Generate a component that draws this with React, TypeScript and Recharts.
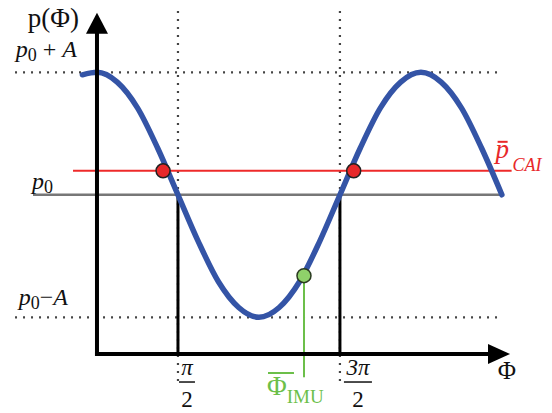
import { ComposedChart, Line, XAxis, YAxis, ReferenceLine, ReferenceDot } from "recharts";

// phi is in units of pi, p is normalised so that p0 = 0 and A = 1
const phiSamples = [-0.09, 0, 0.125, 0.25, 0.375, 0.5, 0.625, 0.75, 0.875, 1, 1.125, 1.25, 1.375, 1.5, 1.625, 1.75, 1.875, 2, 2.125, 2.25, 2.375, 2.5];
const pSamples = [0.98, 1, 0.92, 0.71, 0.38, 0, -0.38, -0.71, -0.92, -1, -0.92, -0.71, -0.38, 0, 0.38, 0.71, 0.92, 1, 0.92, 0.71, 0.38, 0];

const p0 = 0;
const amplitude = 1;
const pCai = 0.196;
const caiCrossings = [0.408, 1.585];
const phiImu = 1.278;
const pImu = -0.66;

const phiTicks = [0.5, 1.5];
const phiTickNumerators = ["π", "3π"];
const phiTickDenominator = "2";

const levelLabels = ["p0 + A", "p0", "p0−A"];

const xDomain: [number, number] = [-0.5, 2.55];
const yDomain: [number, number] = [-1.7, 1.55];
const axisFloor = -1.3;
const axisTop = 1.486;
const axisEnd = 2.55;

const curve = phiSamples.map((phi, i) => ({ phi, p: pSamples[i] }));

const SERIF = { fontFamily: "'Liberation Serif', 'DejaVu Serif', serif" };
const BLUE = "#3454a6";
const RED = "#e8282a";
const GREEN = "#6cbf4a";
const DOTS = "#444";

function VArrow(p: any) {
  return (
    <g>
      <line x1={p.x1} y1={p.y1} x2={p.x2} y2={p.y2 + 18} stroke="#000" strokeWidth={4} strokeLinecap="square" />
      <polygon points={`${p.x2},${p.y2} ${p.x2 - 11},${p.y2 + 21} ${p.x2 + 11},${p.y2 + 21}`} fill="#000" />
    </g>
  );
}

function HArrow(p: any) {
  return (
    <g>
      <line x1={p.x1} y1={p.y1} x2={p.x2 - 18} y2={p.y2} stroke="#000" strokeWidth={4} strokeLinecap="square" />
      <polygon points={`${p.x2},${p.y2} ${p.x2 - 22},${p.y2 - 10} ${p.x2 - 22},${p.y2 + 10}`} fill="#000" />
    </g>
  );
}

function LevelLabel({ cx, cy, text, dx, dy }: any) {
  const [base, rest] = [text.slice(0, 1), text.slice(2)];
  return (
    <text x={cx + dx} y={cy + dy} textAnchor="end" style={SERIF} fontSize={24} fill="#111">
      <tspan fontStyle="italic">{base}</tspan>
      <tspan fontSize={18} dy={4}>0</tspan>
      <tspan dy={-4}>{rest.replace("A", "")}</tspan>
      {rest.includes("A") && <tspan fontStyle="italic">A</tspan>}
    </text>
  );
}

function TickLabel({ cx, cy, num, dx }: any) {
  const x = cx + dx;
  return (
    <g style={SERIF} fontSize={23} fill="#111" textAnchor="middle">
      <text x={x} y={cy + 21} fontStyle="italic">{num}</text>
      <line x1={x - 8 - (num.length - 1) * 6} x2={x + 8 + (num.length - 1) * 6} y1={cy + 28} y2={cy + 28} stroke="#111" strokeWidth={1.5} />
      <text x={x} y={cy + 53}>{phiTickDenominator}</text>
    </g>
  );
}

export default function App() {
  return (
    <div style={{ position: "absolute", left: 0, top: 0, background: "#fff" }}>
      <ComposedChart width={552} height={413} data={curve} margin={{ top: 5, right: 42, bottom: 10, left: 16 }}>
        <XAxis dataKey="phi" type="number" domain={xDomain} allowDataOverflow hide />
        <YAxis type="number" domain={yDomain} allowDataOverflow hide />

        {/* dotted guides */}
        {[p0 + amplitude, p0 - amplitude].map((y) => (
          <ReferenceLine key={`h${y}`} ifOverflow="visible" segment={[{ x: -0.506, y }, { x: 2.5, y }]}
            stroke={DOTS} strokeWidth={2.2} strokeDasharray="2 6" />
        ))}
        {phiTicks.map((x) => (
          <ReferenceLine key={`v${x}`} ifOverflow="visible" segment={[{ x, y: -1.52 }, { x, y: 1.5 }]}
            stroke={DOTS} strokeWidth={2.2} strokeDasharray="2 6" />
        ))}
        {phiTicks.map((x) => (
          <ReferenceLine key={`s${x}`} ifOverflow="visible" segment={[{ x, y: p0 }, { x, y: axisFloor }]}
            stroke="#000" strokeWidth={3} />
        ))}

        <ReferenceLine ifOverflow="visible" segment={[{ x: -0.395, y: p0 }, { x: 2.5, y: p0 }]} stroke="#777" strokeWidth={2.5} />
        <ReferenceLine ifOverflow="visible" segment={[{ x: -0.148, y: pCai }, { x: 2.56, y: pCai }]} stroke="#ee2a2a" strokeWidth={2} />
        <ReferenceLine ifOverflow="visible" segment={[{ x: phiImu, y: pImu }, { x: phiImu, y: -1.49 }]} stroke={GREEN} strokeWidth={2} />

        <Line dataKey="p" type="monotone" stroke={BLUE} strokeWidth={5.5} strokeLinecap="round" dot={false} activeDot={false} isAnimationActive={false} />

        {/* axes */}
        <ReferenceLine ifOverflow="visible" segment={[{ x: 0, y: axisFloor }, { x: 0, y: axisTop }]} shape={VArrow} />
        <ReferenceLine ifOverflow="visible" segment={[{ x: 0, y: axisFloor }, { x: axisEnd, y: axisFloor }]} shape={HArrow} />

        {caiCrossings.map((x) => (
          <ReferenceDot key={`c${x}`} ifOverflow="visible" x={x} y={pCai} r={7} fill={RED} stroke="#222" strokeWidth={1.5} />
        ))}
        <ReferenceDot ifOverflow="visible" x={phiImu} y={pImu} r={7} fill="#8fd16a" stroke="#2a3a20" strokeWidth={1.5} />

        {/* text */}
        <ReferenceDot ifOverflow="visible" x={0} y={axisTop} r={0}
          shape={(p: any) => (
            <text x={p.cx - 18} y={p.cy + 14} textAnchor="end" style={SERIF} fontSize={27} fill="#111">p(Φ)</text>
          )} />
        {[p0 + amplitude, p0, p0 - amplitude].map((y, i) => (
          <ReferenceDot key={`l${i}`} ifOverflow="visible" x={0} y={y} r={0}
            shape={(p: any) => (
              <LevelLabel cx={p.cx} cy={p.cy} text={levelLabels[i]} dx={[-20, -44, -29][i]} dy={[-15, -6, -12][i]} />
            )} />
        ))}
        {phiTicks.map((x, i) => (
          <ReferenceDot key={`t${x}`} ifOverflow="visible" x={x} y={axisFloor} r={0}
            shape={(p: any) => <TickLabel cx={p.cx} cy={p.cy} num={phiTickNumerators[i]} dx={[9, 18][i]} />} />
        ))}
        <ReferenceDot ifOverflow="visible" x={axisEnd} y={axisFloor} r={0}
          shape={(p: any) => (
            <text x={p.cx - 3} y={p.cy + 25} textAnchor="middle" style={SERIF} fontSize={25} fill="#111">Φ</text>
          )} />
        <ReferenceDot ifOverflow="visible" x={phiImu} y={axisFloor} r={0}
          shape={(p: any) => (
            <g fill={GREEN} style={SERIF}>
              <line x1={p.cx - 36} x2={p.cx - 10} y1={p.cy + 19} y2={p.cy + 19} stroke={GREEN} strokeWidth={2} />
              <text x={p.cx - 37} y={p.cy + 41} fontSize={27}>
                Φ<tspan fontSize={19} dy={8}>IMU</tspan>
              </text>
            </g>
          )} />
        <ReferenceDot ifOverflow="visible" x={2.56} y={pCai} r={0}
          shape={(p: any) => (
            <g fill={RED} style={SERIF} fontStyle="italic">
              <line x1={p.cx - 14} x2={p.cx - 4} y1={p.cy - 29} y2={p.cy - 29} stroke={RED} strokeWidth={2} />
              <text x={p.cx - 16} y={p.cy - 13} fontSize={27}>p</text>
              <text x={p.cx + 1} y={p.cy} fontSize={18}>CAI</text>
            </g>
          )} />
      </ComposedChart>
    </div>
  );
}
